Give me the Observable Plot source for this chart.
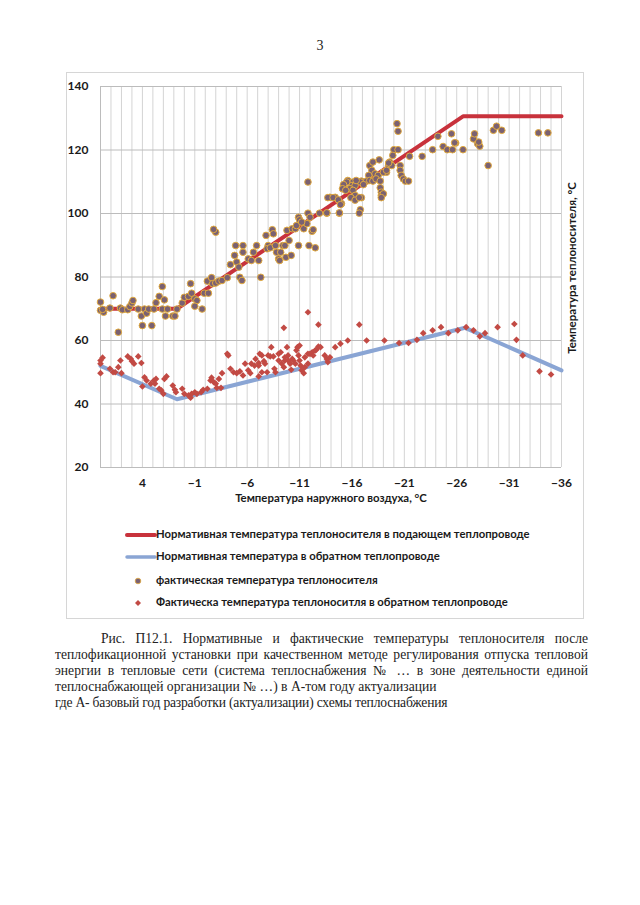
<!DOCTYPE html>
<html><head><meta charset="utf-8">
<script src="https://cdn.jsdelivr.net/npm/d3@7"></script>
<script src="https://cdn.jsdelivr.net/npm/@observablehq/plot@0.6"></script>
<style>
body{margin:0;background:#fff;}
#page{position:relative;width:640px;height:905px;overflow:hidden;background:#fff;}
#pnum{position:absolute;left:0;width:640px;top:38px;text-align:center;font-family:"Liberation Serif",serif;font-size:14px;color:#222;}
#frame{position:absolute;left:66px;top:72px;width:518px;height:547px;border:1px solid #d6d6d6;box-sizing:border-box;}
#chart{position:absolute;left:0;top:70px;}
.ax{position:absolute;font-family:Lato,"Open Sans",sans-serif;font-weight:bold;color:#1a1a1a;white-space:nowrap;}
#xt{left:0;width:662px;text-align:center;top:491px;font-size:11.4px;}
#yt{left:571px;top:268px;font-size:11.5px;transform:translate(-50%,-50%) rotate(-90deg);}
.lg{position:absolute;left:0;height:20px;width:600px;}
.lg svg{position:absolute;left:120px;top:0;}
.lg span{position:absolute;left:156px;top:2px;font-family:Lato,"Open Sans",sans-serif;font-weight:bold;font-size:11.3px;color:#1a1a1a;white-space:nowrap;}
#cap{position:absolute;left:55px;top:631px;width:533px;font-family:"Liberation Serif",serif;font-size:13.6px;line-height:16px;color:#222;}
#cap p{margin:0;text-align:justify;text-indent:46px;}
#cap p.n{text-indent:0;text-align:left;letter-spacing:-0.2px;}
</style></head><body><div id="page">
<div id="pnum">3</div>
<div id="frame"></div>
<div id="chart"></div>
<div class="ax" id="xt">Температура наружного воздуха, °С</div>
<div class="ax" id="yt">Температура теплоносителя, °С</div>
<div id="legend"></div>
<div id="cap"><p>Рис. П12.1. Нормативные и фактические температуры теплоносителя после теплофикационной установки при качественном методе регулирования отпуска тепловой энергии в тепловые сети (система теплоснабжения № … в зоне деятельности единой теплоснабжающей организации № …) в А-том году актуализации</p><p class="n">где А- базовый год разработки (актуализации) схемы теплоснабжения</p></div>
</div>
<script>
// Normative curves (outdoor temperature, °C -> coolant temperature, °C)
const supplyNormT = [8, 0.7, -26.6, -36];
const supplyNormV = [70, 70, 130.6, 130.6];
const returnNormT = [8, 0.7, -26.8, -36];
const returnNormV = [52, 41.5, 64, 50.6];
const xTicks = [4, -1, -6, -11, -16, -21, -26, -31, -36];
const yTicks = [20, 40, 60, 80, 100, 120, 140];
const seriesNames = [
  "Нормативная температура теплоносителя в подающем теплопроводе",
  "Нормативная температура в обратном теплопроводе",
  "фактическая  температура теплоносителя",
  "Фактическа температура теплоноситля в обратном теплопроводе"
];
// Actual supply temperatures [outdoor, coolant]
const supplyActual = [
[8.0,72.1],[8.0,69.5],[7.7,68.9],[7.8,69.8],[6.8,74.1],[6.3,62.6],[7.1,70.2],[6.1,70.2],[5.9,69.7],[5.4,69.7],[5.2,70.7],[5.0,71.8],[4.9,72.6],[4.4,69.9],[4.1,67.7],[4.0,64.7],[3.8,69.9],[3.6,68.6],[3.4,69.9],[3.1,64.7],[2.9,69.9],[2.7,71.9],[2.4,73.9],[2.1,77.0],[1.9,72.8],[2.1,69.9],[1.8,67.7],[1.6,69.9],[1.1,67.7],[0.9,67.7],[0.7,69.9],[0.2,71.8],[0.0,73.6],[-0.4,73.9],[-0.6,77.9],[-0.7,74.9],[-1.0,73.1],[-1.2,72.6],[-1.0,70.8],[-1.7,69.9],[-1.9,74.9],[-2.3,74.9],[-2.2,78.7],[-2.6,79.8],[-2.7,77.9],[-3.0,78.1],[-3.3,78.7],[-3.6,78.9],[-4.1,79.8],[-3.0,94.1],[-2.8,95.0],[-4.4,83.9],[-4.8,86.8],[-5.0,84.7],[-5.2,83.1],[-5.3,79.9],[-5.5,78.9],[-4.9,89.9],[-5.6,89.9],
[-5.6,87.8],[-6.1,85.7],[-6.4,85.2],[-6.6,87.8],[-6.9,89.9],[-7.1,85.2],[-7.3,79.9],[-7.8,93.1],[-8.0,89.9],[-7.9,88.9],[-8.2,89.2],[-8.4,94.9],[-8.5,93.6],[-8.7,89.9],[-8.8,87.8],[-9.0,85.7],[-9.1,85.2],[-9.2,87.8],[-9.4,89.9],[-9.6,89.9],[-9.7,86.2],[-10.2,86.8],[-10.0,91.5],[-9.8,94.7],[-10.3,95.2],[-10.6,95.2],[-10.7,96.2],[-10.9,98.8],[-11.0,98.0],[-11.4,95.2],[-11.7,96.8],[-11.8,100.1],[-12.0,98.8],[-12.2,94.4],[-12.3,94.9],[-11.9,89.9],[-12.5,89.2],[-10.9,89.9],[-11.2,97.3],[-11.8,109.9],[-12.9,100.1],[-13.6,100.1],[-13.9,105.1],[-14.4,105.1],[-14.8,100.1],[-15.0,103.1],[-15.2,108.8],
[-20.3,128.3],[-20.4,125.9],[-20.0,120.1],[-20.4,120.1],[-19.9,118.3],[-19.6,116.2],[-19.5,115.1],[-19.3,113.0],[-19.8,115.1],[-20.6,115.1],[-20.6,113.6],[-20.7,112.0],[-20.9,110.9],[-21.1,110.2],[-21.4,110.2],[-21.5,118.0],[-22.7,118.0],[-23.7,120.1],[-24.2,124.3],[-24.7,121.1],[-25.1,120.1],[-25.5,125.1],[-25.6,120.1],[-25.9,122.2],[-26.6,120.1],
[-17.7,115.1],[-18.0,116.2],[-18.6,116.9],[-17.9,113.6],[-18.2,112.5],[-17.6,112.0],[-18.5,112.0],[-19.0,113.0],[-19.3,113.6],[-19.5,115.9],[-16.9,110.2],[-17.4,110.2],[-17.7,110.4],[-18.0,110.2],[-18.3,110.9],[-18.7,110.2],[-16.8,109.9],[-17.1,109.1],
[-15.6,110.4],[-16.1,109.9],[-16.0,108.8],[-16.3,108.8],[-16.4,110.4],[-15.8,107.8],[-16.1,107.3],[-16.3,105.7],[-15.9,105.0],[-16.3,104.2],[-16.9,105.0],[-16.7,105.0],[-15.5,109.9],[-15.2,109.1],[-15.1,107.8],[-15.4,107.3],[-18.7,108.1],[-18.8,106.7],[-18.8,105.7],[-19.0,106.2],[-18.8,105.0],[-16.8,101.2],[-16.7,100.1],[-13.7,105.0],[-14.2,105.0],[-14.7,104.3],[-14.9,102.8],[-13.6,100.2],[-14.8,100.2],
[-25.8,122.3],[-27.6,123.5],[-27.7,125.1],[-28.0,122.0],[-28.2,121.2],[-28.1,122.5],[-29.0,115.1],[-29.5,126.2],[-29.8,127.5],[-30.3,126.2],[-33.8,125.4],[-34.7,125.4]
];
// Actual return temperatures [outdoor, coolant]
const returnActual = [
[8.0,53.7],[7.8,54.6],[8.0,52.7],[8.0,49.7],[7.1,51.1],[6.8,50.0],[6.6,50.0],[6.1,53.7],[6.3,51.6],[6.0,49.7],[5.4,55.0],[5.1,54.2],[5.0,53.5],[4.8,52.7],[4.4,55.0],[4.1,52.9],[4.0,45.5],[3.8,48.4],[3.6,47.4],[3.2,46.4],[2.9,47.4],[2.8,46.4],[2.7,47.9],[2.4,44.8],[2.2,44.3],[2.0,43.2],[1.9,47.9],[1.7,48.7],[1.1,45.8],[0.9,44.5],[0.8,43.7],[0.2,44.8],[0.0,43.2],[-0.4,42.7],[-0.6,42.0],[-0.7,43.2],[-1.0,43.7],[-1.2,43.2],[-1.6,43.7],[-1.8,44.5],[-2.2,44.8],[-2.5,47.4],[-2.6,48.3],[-2.8,46.9],[-3.0,46.4],[-3.1,45.1],[-3.3,47.9],[-3.6,49.7],[-3.5,45.1],[-4.1,55.8],[-4.2,55.3],[-4.4,51.1],[-4.7,50.0],[-5.0,49.7],[-5.3,50.3],[-5.6,49.0],[-5.8,52.7],[-6.1,50.6],[-6.3,49.7],[-6.4,52.7],[-6.7,52.1],[-7.1,52.9],[-7.4,55.3],[-7.6,53.5],
[-7.2,55.8],[-6.8,54.2],[-7.1,52.1],[-7.1,48.7],[-7.4,50.0],[-7.7,52.7],[-7.9,50.0],[-8.0,55.3],[-8.3,57.9],[-8.2,55.0],[-8.5,55.0],[-8.6,51.1],[-8.7,50.0],[-9.0,53.7],[-9.0,55.8],[-9.2,56.3],[-9.3,52.7],[-9.5,51.6],[-9.6,54.7],[-9.6,53.7],[-9.8,57.9],[-9.9,55.3],[-9.9,53.7],[-10.1,52.7],[-10.2,50.8],[-10.3,54.2],[-10.4,53.7],[-10.6,52.7],[-10.7,56.9],[-10.8,57.9],[-10.9,55.3],[-11.0,58.4],[-11.0,53.7],[-11.1,52.1],[-11.2,50.6],[-11.4,49.7],[-11.5,51.6],[-11.5,54.7],[-11.8,55.8],[-11.8,52.7],[-12.0,55.8],[-12.2,56.3],[-12.3,55.3],[-12.5,56.9],[-12.6,57.1],[-12.8,58.1],[-13.0,57.9],[-13.4,55.3],[-13.6,54.2],[-13.7,53.2],[-13.9,54.7],
[-9.5,64.0],[-11.8,68.9],[-12.8,65.0],[-14.4,57.9],[-14.9,59.0],[-15.6,60.0],[-16.7,65.0],[-17.4,60.0],[-19.1,60.0],[-20.5,59.2],[-21.4,59.2],[-22.2,60.2],[-22.8,62.3],[-23.7,63.2],[-24.5,64.2],[-25.2,62.3],[-26.1,63.2],[-26.9,64.2],[-27.6,63.2],[-28.2,61.3],[-28.7,62.3],[-29.9,64.2],[-31.5,65.2],[-31.7,60.2],[-32.3,55.3],[-33.9,50.3],[-35.0,49.3]
];

const colors = {supply:"#c8323c", ret:"#8aa5d4", dotFill:"#7a6172", dotStroke:"#e2aa3e", diamond:"#c24a44"};
const supplyNorm = supplyNormT.map((t,i)=>({t, v:supplyNormV[i]}));
const returnNorm = returnNormT.map((t,i)=>({t, v:returnNormV[i]}));

const chart = Plot.plot({
  width: 640, height: 450,
  marginLeft: 100, marginRight: 79, marginTop: 16, marginBottom: 53,
  style: {fontFamily: "Lato, 'Open Sans', sans-serif", fontSize: "12px", fontWeight: "bold", color: "#1a1a1a", background: "transparent"},
  x: {domain: [8, -36], ticks: xTicks, tickSize: 0, tickPadding: 11, label: null},
  y: {domain: [20, 140], ticks: yTicks, tickSize: 0, tickPadding: 12, label: null},
  marks: [
    Plot.gridX(d3.range(8, -37, -1), {stroke: "#d4d4d4", strokeOpacity: 1, strokeWidth: 1}),
    Plot.gridY(yTicks, {stroke: "#bcbcbc", strokeOpacity: 1, strokeWidth: 1}),
    Plot.ruleX([8], {stroke: "#bcbcbc"}),
    Plot.line(supplyNorm, {x: "t", y: "v", stroke: colors.supply, strokeWidth: 4, strokeLinejoin: "round"}),
    Plot.line(returnNorm, {x: "t", y: "v", stroke: colors.ret, strokeWidth: 4, strokeLinejoin: "round"}),
    Plot.dot(supplyActual, {x: d=>d[0], y: d=>d[1], r: 3.3, fill: colors.dotFill, stroke: colors.dotStroke, strokeWidth: 1}),
    Plot.dot(returnActual, {x: d=>d[0], y: d=>d[1], r: 3, symbol: "diamond2", fill: colors.diamond, stroke: "none"})
  ]
});
document.getElementById("chart").appendChild(chart);

// Legend
const legendRows = [535, 557, 581, 603];
const lg = document.getElementById("legend");
seriesNames.forEach((name, i) => {
  const row = document.createElement("div");
  row.className = "lg";
  row.style.top = (legendRows[i] - 10) + "px";
  let sw;
  if (i === 0) sw = `<line x1="7" y1="10" x2="35" y2="10" stroke="${colors.supply}" stroke-width="4" stroke-linecap="round"/>`;
  else if (i === 1) sw = `<line x1="7" y1="10" x2="35" y2="10" stroke="${colors.ret}" stroke-width="3.5" stroke-linecap="round"/>`;
  else if (i === 2) sw = `<circle cx="18" cy="10" r="2.8" fill="${colors.dotFill}" stroke="${colors.dotStroke}" stroke-width="0.8"/>`;
  else sw = `<path d="M18 7 L21 10 L18 13 L15 10 Z" fill="${colors.diamond}"/>`;
  row.innerHTML = `<svg width="40" height="20">${sw}</svg><span>${name}</span>`;
  lg.appendChild(row);
});
</script></body></html>
